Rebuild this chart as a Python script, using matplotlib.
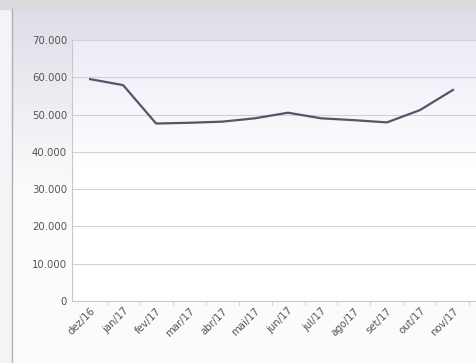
import matplotlib
matplotlib.use("Agg")
import matplotlib.pyplot as plt
import numpy as np
from matplotlib.ticker import FuncFormatter, FixedLocator

months = ["dez/16", "jan/17", "fev/17", "mar/17", "abr/17", "mai/17",
          "jun/17", "jul/17", "ago/17", "set/17", "out/17", "nov/17"]
values = [59500, 57900, 47600, 47800, 48100, 49000,
          50500, 49000, 48500, 47900, 51200, 56600]
yticks = [0, 10000, 20000, 30000, 40000, 50000, 60000, 70000]

fig = plt.figure(figsize=(4.76, 3.63), dpi=100)
fig.patch.set_facecolor("#f4f4f6")

# top gray band and left border
bg = fig.add_axes([0, 0, 1, 1], zorder=-5)
bg.set_xlim(0, 1); bg.set_ylim(0, 1); bg.axis("off")
grad = np.linspace(0, 1, 100).reshape(-1, 1)
bg.imshow(grad, extent=[0.025, 1, 0, 0.975], aspect="auto",
          cmap=matplotlib.colors.LinearSegmentedColormap.from_list(
              "g", ["#fbfbfc", "#fbfbfc", "#dedee8"]), origin="lower")
bg.fill_between([0, 1], 0.975, 1, color="#dcdce0")
bg.plot([0.025, 0.025], [0, 0.975], color="#b0b0b8", lw=1)

ax = fig.add_axes([72/476, 1-301/363, 1-72/476, (301-40)/363])
x = np.arange(len(months))
ax.set_xlim(-0.55, len(months) - 0.3)
ax.set_ylim(0, 70000)
ax.imshow(grad, extent=[-0.55, len(months) - 0.3, 0, 70000], aspect="auto",
          cmap=matplotlib.colors.LinearSegmentedColormap.from_list(
              "p", ["#ffffff", "#ffffff", "#ececf6"]), origin="lower", zorder=0)
ax.plot(x, values, color="#55556a", lw=1.6, zorder=3)

ax.set_yticks(yticks)
ax.yaxis.set_major_formatter(FuncFormatter(lambda v, p: f"{int(v):,}".replace(",", ".")))
ax.set_xticks(x)
ax.set_xticklabels(months, rotation=45, ha="right", rotation_mode="anchor")
ax.xaxis.set_minor_locator(FixedLocator(np.arange(len(months)) + 0.5))
ax.grid(axis="y", color="#d0d0d8", lw=0.8, zorder=1)
ax.tick_params(axis="both", labelsize=7.3, colors="#555555", length=0)
ax.tick_params(axis="x", which="minor", length=3, color="#c8c8d0")
for s in ["top", "right"]:
    ax.spines[s].set_visible(False)
ax.spines["left"].set_color("#c8c8d0")
ax.spines["bottom"].set_color("#c8c8d0")

fig.savefig("out.png", dpi=100, facecolor=fig.get_facecolor())
